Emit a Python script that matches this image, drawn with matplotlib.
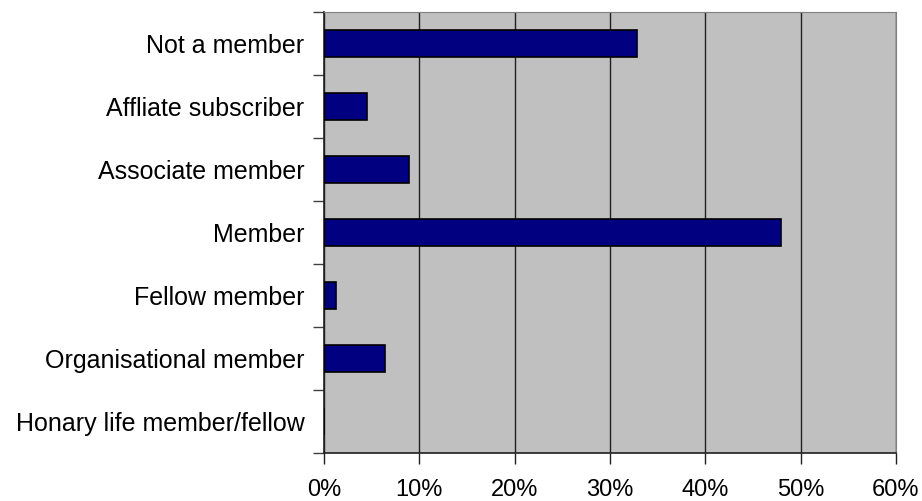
import matplotlib.pyplot as plt
import numpy as np

# membership categories, top to bottom
categories = ['Not a member', 'Affliate subscriber', 'Associate member', 'Member',
              'Fellow member', 'Organisational member', 'Honary life member/fellow']
# share of respondents (%)
shares = [32.8, 4.5, 8.9, 47.9, 1.3, 6.4, 0.0]
x_ticks = [0, 10, 20, 30, 40, 50, 60]

plt.rcParams['font.family'] = ['Liberation Sans', 'DejaVu Sans']

fig = plt.figure(figsize=(9.22, 5.01), dpi=100)
ax = fig.add_axes([0.3514, 0.0958, 0.6204, 0.8802])
ax.set_facecolor('#C0C0C0')

y = np.arange(len(categories))
ax.barh(y, shares, height=0.43, color='#000080', edgecolor='black', linewidth=1.2, zorder=3)

ax.set_xlim(0, 60)
ax.set_ylim(len(categories) - 0.5, -0.5)

ax.set_xticks(x_ticks)
ax.set_xticklabels([f'{v}%' for v in x_ticks])
ax.xaxis.grid(True, color='#202020', linewidth=1.0, zorder=1)

# category labels at centres, ticks at boundaries
ax.set_yticks(np.arange(-0.5, len(categories), 1.0))
ax.set_yticklabels([])
ax.set_yticks(y, minor=True)
ax.set_yticklabels(categories, minor=True)
ax.tick_params(axis='y', which='minor', length=0, pad=14, labelsize=18)
ax.tick_params(axis='y', which='major', length=8, width=1, color='#404040', direction='out')
ax.tick_params(axis='x', length=8, width=1, color='#202020', direction='out', pad=11, labelsize=17)

for s in ['top', 'right']:
    ax.spines[s].set_color('#808080')
for s in ['left', 'bottom']:
    ax.spines[s].set_color('#202020')
    ax.spines[s].set_linewidth(1.2)

fig.savefig('out.png', dpi=100)
